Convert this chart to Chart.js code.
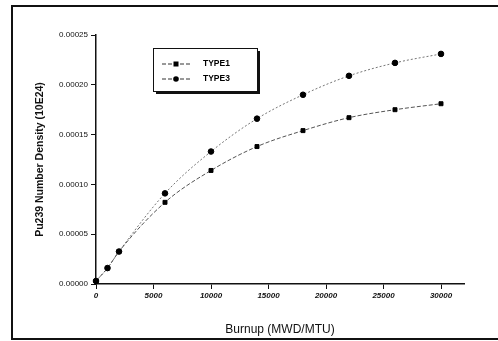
<!DOCTYPE html>
<html>
<head>
<meta charset="utf-8">
<script src="https://cdn.jsdelivr.net/npm/chart.js@4/dist/chart.umd.min.js"></script>
<style>
  html, body { margin: 0; padding: 0; background: #fff; }
  #wrap { width: 498px; height: 341px; position: relative; }
</style>
</head>
<body>
<div id="wrap"><canvas id="c"></canvas></div>
<script>
const burnup = [0, 1000, 2000, 6000, 10000, 14000, 18000, 22000, 26000, 30000];
const type1 = [0.000003, 0.000016, 0.0000326, 0.000082, 0.000114, 0.000138, 0.000154, 0.000167, 0.000175, 0.000181];
const type3 = [0.000003, 0.000016, 0.0000326, 0.000091, 0.000133, 0.000166, 0.00019, 0.000209, 0.000222, 0.000231];
const seriesNames = ["TYPE1", "TYPE3"];
const xTicks = [0, 5000, 10000, 15000, 20000, 25000, 30000];
const yTicks = [0, 0.00005, 0.0001, 0.00015, 0.0002, 0.00025];

const pts = (ys) => burnup.map((x, i) => ({ x: x, y: ys[i] }));

// page frame (left, top, bottom) + white background
const frame = {
  id: "frame",
  beforeDraw(chart) {
    const c = chart.ctx;
    c.save();
    c.fillStyle = "#fff";
    c.fillRect(0, 0, chart.width, chart.height);
    c.strokeStyle = "#111";
    c.lineWidth = 2;
    c.beginPath();
    c.moveTo(498, 6); c.lineTo(12, 6); c.lineTo(12, 339); c.lineTo(498, 339);
    c.stroke();
    c.restore();
  }
};

// boxed legend inside the plot, like the original
const boxLegend = {
  id: "boxLegend",
  afterDraw(chart) {
    const c = chart.ctx;
    const x0 = 153, y0 = 48, w = 104, h = 43;
    c.save();
    c.fillStyle = "#111";
    c.fillRect(x0 + 3, y0 + h, w, 3);
    c.fillRect(x0 + w, y0 + 3, 3, h);
    c.strokeStyle = "#111";
    c.lineWidth = 1;
    c.strokeRect(x0 + 0.5, y0 + 0.5, w, h);
    chart.data.datasets.forEach((ds, i) => {
      const y = 64 + i * 15;
      c.strokeStyle = "#333";
      c.setLineDash([4, 2]);
      c.beginPath();
      c.moveTo(162, y); c.lineTo(190, y);
      c.stroke();
      c.setLineDash([]);
      c.fillStyle = "#000";
      if (ds.pointStyle === "rect") {
        c.fillRect(173.5, y - 2.5, 5, 5);
      } else {
        c.beginPath(); c.arc(176, y, 2.8, 0, Math.PI * 2); c.fill();
      }
      c.font = "bold 8.5px Arial, 'Liberation Sans', sans-serif";
      c.textBaseline = "middle";
      c.fillText(ds.label, 203, y);
    });
    c.restore();
  }
};

new Chart(document.getElementById("c"), {
  type: "scatter",
  data: {
    datasets: [
      {
        label: seriesNames[0],
        data: pts(type1),
        showLine: true,
        cubicInterpolationMode: "monotone",
        borderColor: "#555",
        borderWidth: 1,
        borderDash: [4, 2],
        pointStyle: "rect",
        pointRadius: 2.8,
        pointBackgroundColor: "#000",
        pointBorderColor: "#000",
        clip: false,
      },
      {
        label: seriesNames[1],
        data: pts(type3),
        showLine: true,
        cubicInterpolationMode: "monotone",
        borderColor: "#777",
        borderWidth: 1,
        borderDash: [2, 2],
        pointStyle: "circle",
        pointRadius: 2.8,
        pointBackgroundColor: "#000",
        pointBorderColor: "#000",
        clip: false,
      },
    ],
  },
  options: {
    responsive: true,
    maintainAspectRatio: false,
    animation: false,
    layout: { padding: { left: 30, right: 34, top: 35, bottom: 0 } },
    plugins: {
      legend: { display: false },
      tooltip: { enabled: false },
    },
    scales: {
      x: {
        type: "linear",
        min: 0,
        max: 32000,
        afterBuildTicks: (s) => { s.ticks = xTicks.map((v) => ({ value: v })); },
        afterFit: (s) => { s.height = 57; },
        grid: { drawOnChartArea: false, drawTicks: true, tickLength: 5, color: "#111", tickWidth: 1 },
        border: { display: true, color: "#111", width: 1.5 },
        ticks: {
          color: "#111",
          padding: 2,
          maxRotation: 0,
          font: { size: 8, style: "italic", weight: "bold", family: "Arial, 'Liberation Sans', sans-serif" },
          callback: (v) => String(v),
        },
        title: {
          display: true,
          text: "Burnup (MWD/MTU)",
          color: "#111",
          padding: { top: 3 },
          font: { size: 12, family: "Arial, 'Liberation Sans', sans-serif" },
        },
      },
      y: {
        type: "linear",
        min: 0,
        max: 0.00025,
        afterBuildTicks: (s) => { s.ticks = yTicks.map((v) => ({ value: v })); },
        afterFit: (s) => { s.width = 66; },
        grid: { drawOnChartArea: false, drawTicks: true, tickLength: 5, color: "#111", tickWidth: 1 },
        border: { display: true, color: "#111", width: 1.5 },
        ticks: {
          color: "#111",
          padding: 3,
          font: { size: 8, family: "Arial, 'Liberation Sans', sans-serif" },
          callback: (v) => v.toFixed(5),
        },
        title: {
          display: true,
          text: "Pu239 Number Density (10E24)",
          color: "#111",
          padding: { top: 4, bottom: 0 },
          font: { size: 10.5, weight: "bold", family: "Arial, 'Liberation Sans', sans-serif" },
        },
      },
    },
  },
  plugins: [frame, boxLegend],
});
</script>
</body>
</html>
